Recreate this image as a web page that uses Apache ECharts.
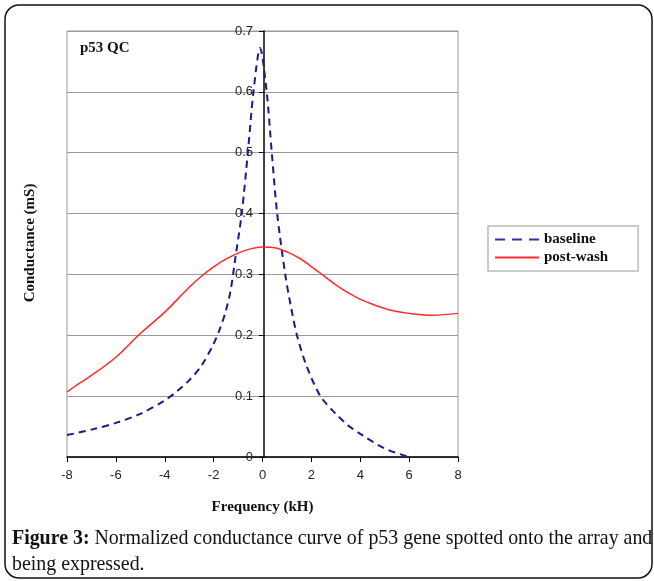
<!DOCTYPE html>
<html><head><meta charset="utf-8">
<script src="https://cdn.jsdelivr.net/npm/echarts@6/dist/echarts.min.js"></script>
<style>html,body{margin:0;padding:0;background:#fff}#c{width:654px;height:581px}</style>
</head><body><div id="c"></div>
<script>
const baselineX = [-8,-7,-6,-5,-4,-3.5,-3,-2.5,-2,-1.75,-1.5,-1.3,-1.1,-0.85,-0.6,-0.37,-0.1,0.17,0.38,0.6,0.93,1.15,1.41,1.8,2.37,3,3.5,4,5,6];
const baselineY = [0.036,0.045,0.056,0.071,0.093,0.108,0.126,0.15,0.186,0.21,0.24,0.275,0.33,0.4,0.5,0.6,0.672,0.6,0.5,0.4,0.3,0.25,0.2,0.15,0.1,0.071,0.052,0.038,0.014,0.0];
const washX = [-8,-7.5,-7,-6,-5,-4,-3,-2.5,-2,-1.5,-1,-0.5,0,0.5,1,1.5,2,2.5,3,3.5,4,4.5,5,5.5,6,7,8];
const washY = [0.107,0.121,0.134,0.164,0.203,0.238,0.279,0.297,0.3125,0.325,0.335,0.342,0.345,0.344,0.337,0.327,0.313,0.298,0.283,0.27,0.259,0.251,0.244,0.239,0.236,0.233,0.236];
const xTicks = [-8,-6,-4,-2,0,2,4,6,8];
const yTicks = [0,0.1,0.2,0.3,0.4,0.5,0.6,0.7];

const chart = echarts.init(document.getElementById('c'));
const serif = '"Liberation Serif", "DejaVu Serif", serif';
const sans = '"Liberation Sans", Arial, sans-serif';
const blue = '#1a1a8a';
const red = '#ff2a2a';
chart.setOption({
  animation: false,
  grid: {left: 67, right: 196, top: 31, bottom: 124, show: true, borderColor: '#999', borderWidth: 1},
  xAxis: {
    type: 'value', min: -8, max: 8, interval: 2,
    name: 'Frequency (kH)', nameLocation: 'middle', nameGap: 43,
    nameTextStyle: {fontFamily: serif, fontWeight: 'bold', fontSize: 15, color: '#111'},
    axisLine: {show: true, onZero: false, lineStyle: {color: '#000', width: 1.5}},
    axisTick: {show: true, inside: false, length: 5, lineStyle: {color: '#000'}},
    axisLabel: {fontFamily: sans, fontSize: 13, color: '#222', margin: 12, formatter: v => xTicks.includes(v) ? String(v) : ''},
    splitLine: {show: false}
  },
  yAxis: {
    type: 'value', min: 0, max: 0.7, interval: 0.1, offset: -197,
    axisLine: {show: true, onZero: false, lineStyle: {color: '#000', width: 1.5}},
    axisTick: {show: true, length: 5, lineStyle: {color: '#000'}},
    axisLabel: {fontFamily: sans, fontSize: 13, color: '#222', margin: 11, formatter: v => { const t = yTicks.find(k => Math.abs(k - v) < 1e-9); return t === undefined ? '' : (t === 0 ? '0' : t.toFixed(1)); }},
    splitLine: {show: true, lineStyle: {color: '#999', width: 1}}
  },
  legend: {
    left: 488, top: 226, orient: 'vertical', itemGap: 3, itemWidth: 44, itemHeight: 2,
    symbolKeepAspect: false,
    padding: [6, 30, 6, 7], borderColor: '#bbb', borderWidth: 1.5,
    textStyle: {fontFamily: serif, fontWeight: 'bold', fontSize: 15, color: '#111'},
    data: [
      {name: 'baseline', icon: 'path://M0,0h10v2h-10zM17,0h10v2h-10zM34,0h10v2h-10z', itemStyle: {color: '#3030c0'}},
      {name: 'post-wash', icon: 'path://M4,0h34v2h-34z', itemStyle: {color: red}}
    ]
  },
  series: [
    {name: 'baseline', type: 'line', smooth: 0.3, symbol: 'none',
     lineStyle: {color: blue, width: 2, type: [7, 5]}, itemStyle: {color: blue},
     data: baselineX.map((x, i) => [x, baselineY[i]])},
    {name: 'post-wash', type: 'line', smooth: 0.3, symbol: 'none',
     lineStyle: {color: red, width: 1.5}, itemStyle: {color: red},
     data: washX.map((x, i) => [x, washY[i]])}
  ],
  graphic: [
    {type: 'rect', shape: {x: 5, y: 5, width: 647, height: 573, r: 14}, style: {fill: 'none', stroke: '#111', lineWidth: 1.5}, z: -1},
    {type: 'text', left: 80, top: 41, style: {text: 'p53 QC', font: 'bold 15px ' + serif, fill: '#111'}},
    {type: 'text', x: 30, y: 243, rotation: Math.PI / 2, style: {text: 'Conductance (mS)', font: 'bold 15px ' + serif, fill: '#111', align: 'center', verticalAlign: 'middle'}},
    {type: 'text', left: 12, top: 526, style: {
      text: '{b|Figure 3:} Normalized conductance curve of p53 gene spotted onto the array and\nbeing expressed.',
      font: '19.9px ' + serif, fill: '#111', lineHeight: 26,
      rich: {b: {fontFamily: serif, fontWeight: 'bold', fontSize: 19.9, fill: '#111'}}
    }}
  ]
});
</script></body></html>
